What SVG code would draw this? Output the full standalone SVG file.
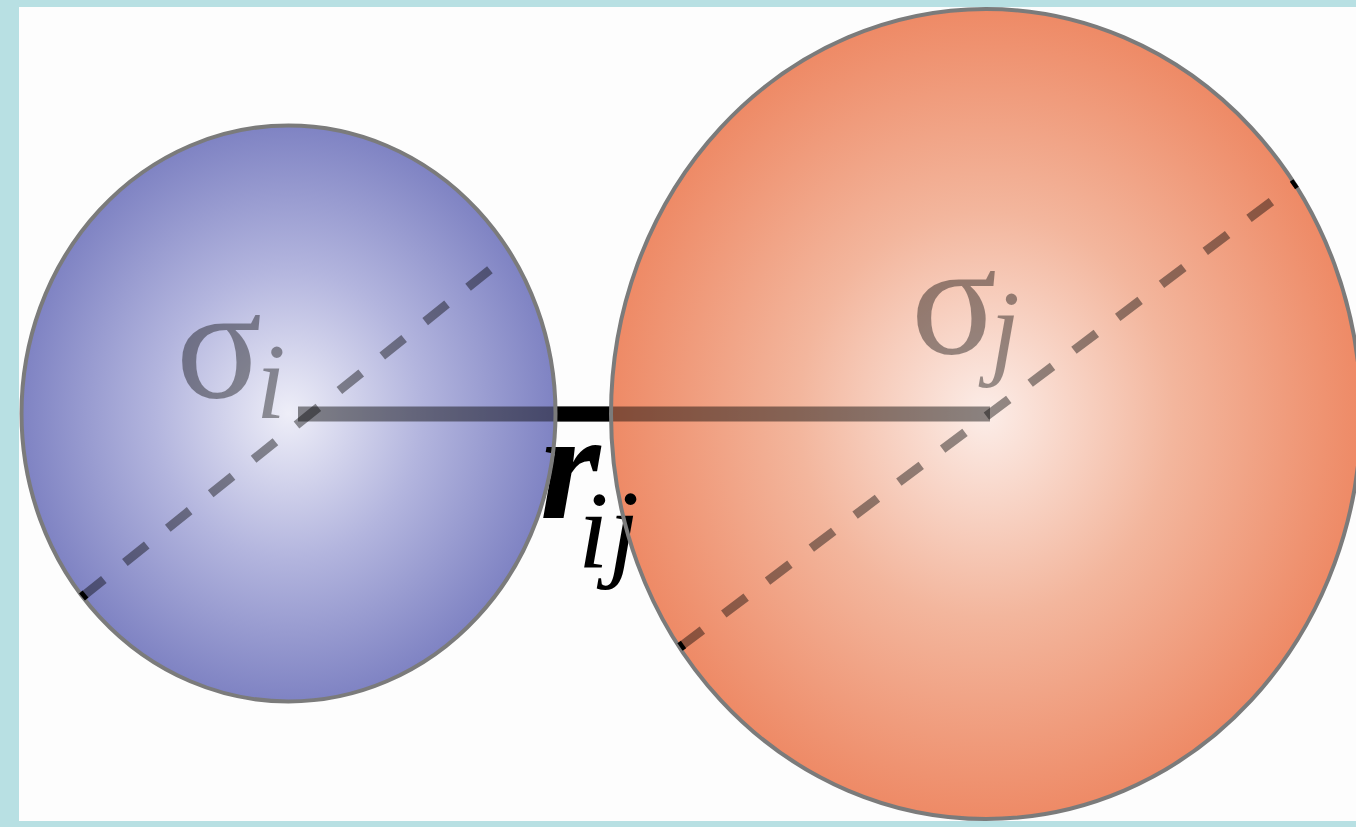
<svg xmlns="http://www.w3.org/2000/svg" width="1356" height="827" viewBox="0 0 1356 827">
<defs>
<style>
.edge{fill:none;stroke:#7b7b7b;stroke-width:4}
.dim{stroke:#000;stroke-opacity:0.45;fill:none}
.dash{stroke:#000;stroke-opacity:0.42;fill:none;stroke-width:9}
.lab{font-family:"Liberation Serif","Times New Roman",serif;fill:#000;fill-opacity:0.4}
.rij{font-family:"Liberation Serif","Times New Roman",serif;fill:#000}
</style>
<radialGradient id="gBlue" cx="0.5" cy="0.5" r="0.5">
<stop offset="0" stop-color="#eeeef8"/>
<stop offset="0.5" stop-color="#b3b5de"/>
<stop offset="1" stop-color="#7f83c3"/>
</radialGradient>
<radialGradient id="gOrange" cx="0.5" cy="0.5" r="0.5">
<stop offset="0" stop-color="#fcede8"/>
<stop offset="0.5" stop-color="#f3b69d"/>
<stop offset="1" stop-color="#ee8a66"/>
</radialGradient>
</defs>
<rect x="0" y="0" width="1356" height="827" fill="#b8e0e3"/>
<rect x="19" y="7" width="1337" height="814" fill="#fdfdfd"/>

<g id="sphere-i">
<ellipse cx="288.5" cy="413.5" rx="267" ry="288" fill="url(#gBlue)"/>
</g>
<g id="sphere-j">
<ellipse cx="986" cy="414" rx="375" ry="405" fill="url(#gOrange)"/>
</g>

<g id="connectors">
<path class="dash" d="M82,597 L492,268" stroke-dasharray="28 27"/>
<path class="dash" d="M680,647 L1296,183" stroke-dasharray="28 26.8"/>
<path class="dim" d="M298,414 H990" stroke-width="15"/>
<path d="M556,414 H612" stroke="#000" stroke-width="15"/>
</g>

<g id="label-sigma-i">
<text class="lab" x="176" y="397" font-size="160">σ<tspan x="256" y="418" font-size="107" font-style="italic">i</tspan></text>
</g>
<g id="label-sigma-j">
<text class="lab" x="911" y="353" font-size="160">σ<tspan x="990" y="365" font-size="107" font-style="italic">j</tspan></text>
</g>
<g id="label-rij">
<text class="rij" x="540" y="518" font-size="155" font-style="italic" font-weight="bold">r<tspan x="578" y="567" font-size="110" font-weight="normal">ij</tspan></text>
</g>

<g id="outlines">
<ellipse class="edge" cx="288.5" cy="413.5" rx="267" ry="288"/>
<ellipse class="edge" cx="986" cy="414" rx="375" ry="405"/>
<path d="M82,597 L85.5,594" stroke="#000" stroke-width="9"/>
<path d="M680,647 L683.5,644.5" stroke="#000" stroke-width="9"/>
<path d="M1296,183 L1292.5,185.5" stroke="#000" stroke-width="9"/>
</g>
</svg>
